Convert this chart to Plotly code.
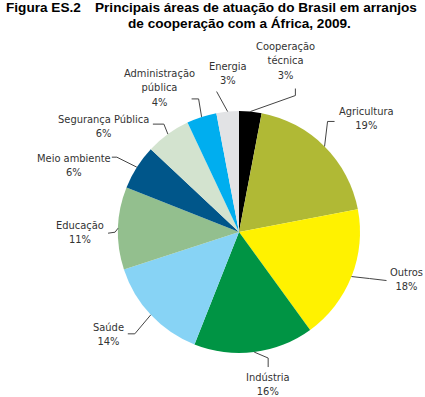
import math
import plotly.graph_objects as go

# ---- data ----
categories = ["Cooperação<br>técnica", "Agricultura", "Outros", "Indústria", "Saúde",
              "Educação", "Meio ambiente", "Segurança Pública",
              "Administração<br>pública", "Energia"]
values = [3, 19, 18, 16, 14, 11, 6, 6, 4, 3]
colors = ["#000000", "#b0b935", "#fff200", "#009444", "#87d3f5",
          "#93bf8e", "#00568a", "#d3e3cf", "#00aeef", "#e2e3e5"]

title_prefix = "Figura ES.2"
title_line1 = "Principais áreas de atuação do Brasil em arranjos"
title_line2 = "de cooperação com a África, 2009."

# ---- layout (pixels) ----
W, H = 425, 397
CX, CY, R = 239, 232, 121

# leader-line offsets from edge tip: list of (dx, dy) points; label anchor (dx, dy)
leaders = {
    0: dict(path=[(45, -16), (45, -23)], label=(35, -51)),
    1: dict(path=[(3, -25), (10, -25)], label=(42, -28)),
    2: dict(path=[(18, 2), (35, 4)], label=(55, 3)),
    3: dict(path=[(14, 6), (14, 15)], label=(14, 32)),
    4: dict(path=[(-16, 19), (-23, 19)], label=(-42, 20)),
    5: dict(path=[(-3, 4), (-10, 5)], label=(-38, 4)),
    6: dict(path=[(-20, -10), (-25, -10)], label=(-63, -2)),
    7: dict(path=[(-4, -10), (-15, -10)], label=(-64, -8)),
    8: dict(path=[(-3, -18), (-10, -18)], label=(-42, -29)),
    9: dict(path=[(-11, -20)], label=(0, -38)),
}


def px(x):
    return x / W


def py(y):
    return 1 - y / H


fig = go.Figure(go.Pie(
    labels=[c.replace("<br>", " ") for c in categories],
    values=values,
    sort=False,
    direction="clockwise",
    rotation=0,
    marker=dict(colors=colors, line=dict(width=0)),
    textinfo="none",
    hoverinfo="label+percent",
    showlegend=False,
    domain=dict(x=[px(CX - R), px(CX + R)], y=[py(CY + R), py(CY - R)]),
))

total = sum(values)
cum = 0
shapes = []
annotations = []
label_font = dict(family="Liberation Sans Narrow, DejaVu Sans Condensed, Arial Narrow, sans-serif",
                  size=11, color="#333333")
for i, v in enumerate(values):
    mid = (cum + v / 2) / total * 2 * math.pi
    cum += v
    tx = CX + R * math.sin(mid)
    ty = CY - R * math.cos(mid)
    ld = leaders[i]
    pts = [(tx, ty)] + [(tx + dx, ty + dy) for dx, dy in ld["path"]]
    path = "M " + " L ".join(f"{px(x):.5f},{py(y):.5f}" for x, y in pts)
    shapes.append(dict(type="path", path=path, xref="paper", yref="paper",
                       line=dict(color="#444444", width=1)))
    pct = round(v / total * 100)
    lx, ly = tx + ld["label"][0], ty + ld["label"][1]
    annotations.append(dict(text=f"{categories[i]}<br>{pct}%", x=px(lx), y=py(ly),
                            xref="paper", yref="paper", showarrow=False,
                            xanchor="center", yanchor="middle", align="center",
                            font=label_font))

title_font = dict(family="Liberation Sans, Arial, sans-serif", size=13.6, color="#000000")
annotations += [
    dict(text=f"<b>{title_prefix}</b>", x=px(4), y=py(8), xref="paper", yref="paper",
         showarrow=False, xanchor="left", yanchor="middle", font=title_font),
    dict(text=f"<b>{title_line1}</b>", x=px(93), y=py(8), xref="paper", yref="paper",
         showarrow=False, xanchor="left", yanchor="middle", font=title_font),
    dict(text=f"<b>{title_line2}</b>", x=px(126), y=py(23), xref="paper", yref="paper",
         showarrow=False, xanchor="left", yanchor="middle", font=title_font),
]

fig.update_layout(
    width=W, height=H,
    margin=dict(l=0, r=0, t=0, b=0),
    paper_bgcolor="white", plot_bgcolor="white",
    shapes=shapes, annotations=annotations,
)
fig.write_html("out.html", config={"displayModeBar": False},
               post_script="document.body.style.margin='0';document.body.style.overflow='hidden';")
